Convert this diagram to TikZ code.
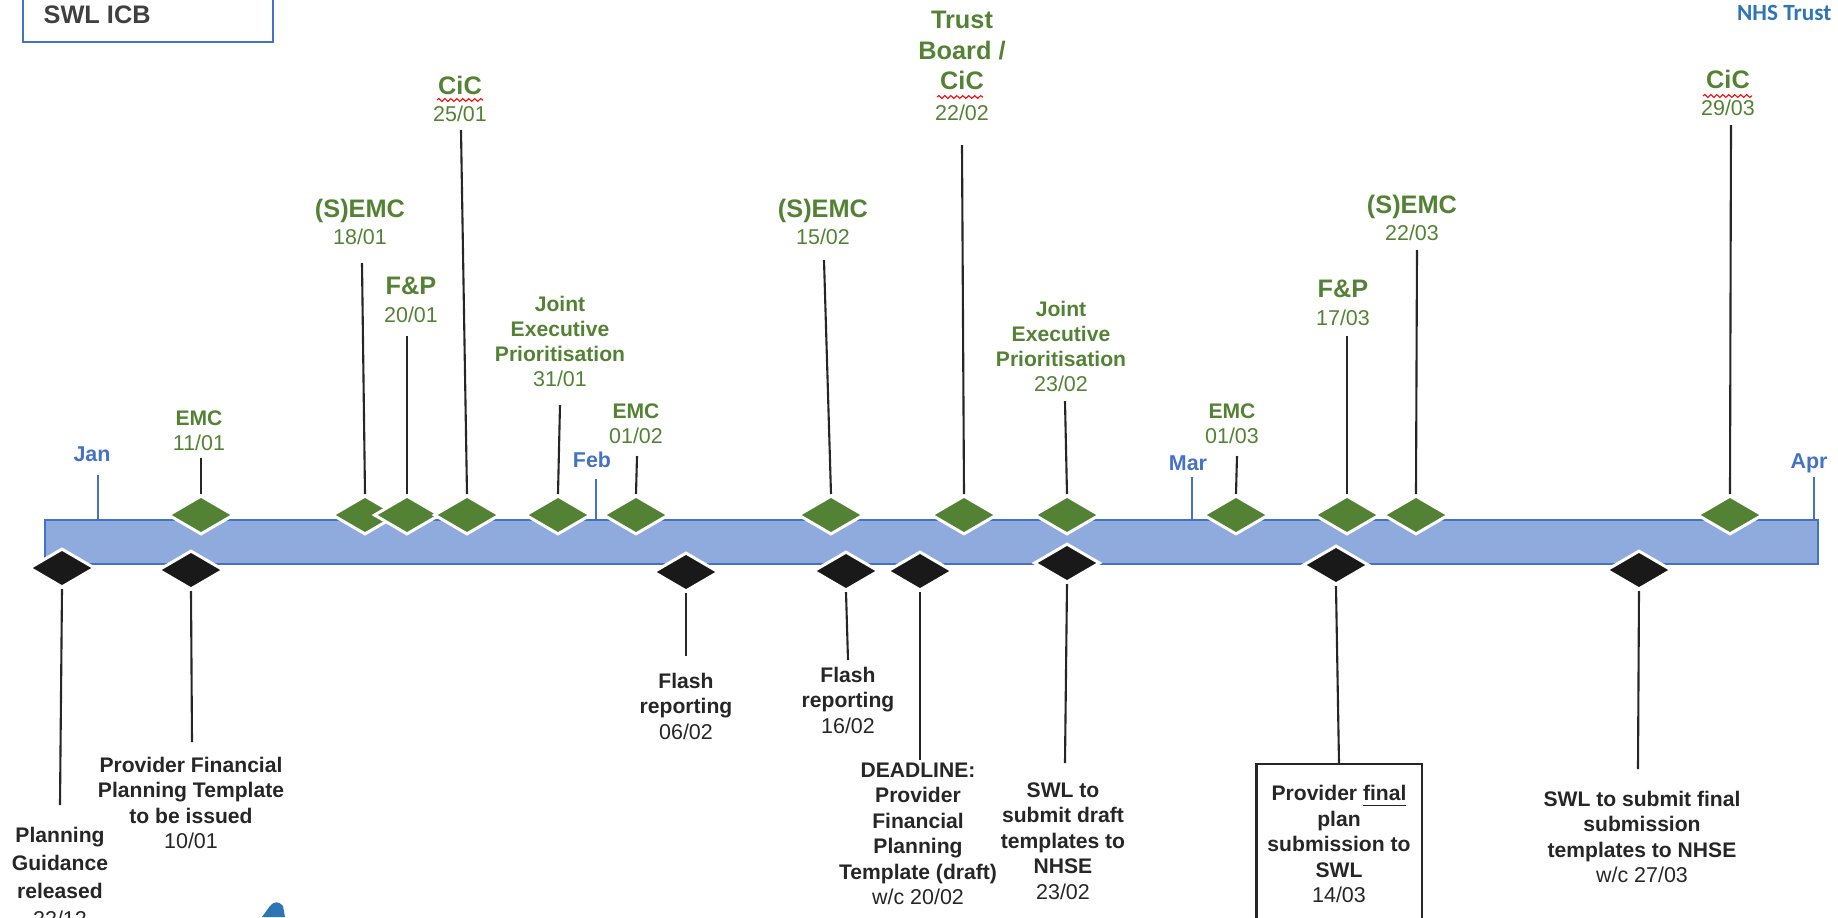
\documentclass[tikz,border=0pt]{standalone}
\usepackage{fontspec}
\setmainfont{Liberation Sans}
\newfontfamily\calibrifont{Carlito}
\usepackage{tikz}
\usetikzlibrary{shapes.geometric}
\usetikzlibrary{decorations.pathmorphing}
\usepackage{xcolor}

\definecolor{meetgreen}{HTML}{548235}
\definecolor{barblue}{HTML}{8FAADC}
\definecolor{lineblue}{HTML}{4472C4}
\definecolor{trustblue}{HTML}{2E75B6}
\definecolor{inkgray}{HTML}{262626}

% dates under a heading, set lighter
\newcommand\dday[1]{{\mdseries\fontsize{6.1}{7}\selectfont #1}}

\begin{document}
\begin{tikzpicture}
	[x=0.01cm, y=-0.01cm,
	meet/.style = {
		diamond, fill=meetgreen, draw=white, line width=0.85pt,
		minimum width=0.66cm, minimum height=0.39cm, inner sep=0cm
	},
	mile/.style = {
		meet, fill=black!90
	},
	stem/.style = {
		draw=inkgray, line width=0.6pt
	},
	mtick/.style = {
		draw=lineblue, line width=0.6pt
	},
	month/.style = {
		text=lineblue, font=\bfseries\fontsize{6.1}{7}\selectfont, inner sep=0cm
	},
	gbig/.style = {
		text=meetgreen, font=\bfseries\fontsize{7.2}{7.8}\selectfont,
		align=center, inner sep=0cm
	},
	gsmall/.style = {
		text=meetgreen, font=\bfseries\fontsize{6}{7.1}\selectfont,
		align=center, inner sep=0cm
	},
	note/.style = {
		text=inkgray, font=\bfseries\fontsize{6}{7.25}\selectfont,
		align=center, inner sep=0cm
	},
	squiggle/.style = {
		draw=red, line width=0.3pt, decorate,
		decoration={snake, amplitude=0.4pt, segment length=1.7pt}
	}]

	\useasboundingbox (0,0) rectangle (1838,917);

	%Draw header
	\draw[lineblue, line width=0.8pt] (23,-10) rectangle (273,42);
	\node[anchor=west, text=black!75, font=\bfseries\fontsize{7.2}{8}\selectfont, inner sep=0cm]
		(icb) at (43,15) {SWL ICB};
	\node[anchor=east, text=trustblue, font=\calibrifont\bfseries\fontsize{6.6}{8}\selectfont, inner sep=0cm]
		(trust) at (1832,13) {NHS Trust};
	\fill[trustblue] (262,917) -- (270,906) .. controls (274,901) and (279,901) .. (283,906) -- (285,917) -- cycle;

	%Draw bar and months
	\draw[lineblue, line width=0.6pt, fill=barblue] (45,520) rectangle (1818,564);
	\node[month] (jan) at (92,454) {Jan};
	\node[month] (feb) at (592,460) {Feb};
	\node[month] (mar) at (1188,463) {Mar};
	\node[month] (apr) at (1809,463) {Apr};
	\draw[mtick] (98,475) -- (98,520);
	\draw[mtick] (596,479) -- (596,520);
	\draw[mtick] (1192,477) -- (1192,520);
	\draw[mtick] (1814,477) -- (1814,520);

	%Draw meeting labels
	\node[gsmall] (t1) at (199,431) {EMC\\\dday{11/01}};
	\node[gbig] (t2) at (360,222) {(S)EMC\\\dday{18/01}};
	\node[gbig] (t3) at (411,300) {F\&P\\\dday{20/01}};
	\node[gbig] (t4) at (460,99) {CiC\\\dday{25/01}};
	\node[gsmall] (t5) at (560,341) {Joint\\Executive\\Prioritisation\\\dday{31/01}};
	\node[gsmall] (t6) at (636,424) {EMC\\\dday{01/02}};
	\node[gbig] (t7) at (823,222) {(S)EMC\\\dday{15/02}};
	\node[gbig, font=\bfseries\fontsize{7.2}{8.7}\selectfont] (t8) at (962,66) {Trust\\Board /\\CiC\\\dday{22/02}};
	\node[gsmall] (t9) at (1061,346) {Joint\\Executive\\Prioritisation\\\dday{23/02}};
	\node[gsmall] (t10) at (1232,424) {EMC\\\dday{01/03}};
	\node[gbig] (t11) at (1343,303) {F\&P\\\dday{17/03}};
	\node[gbig] (t12) at (1412,218) {(S)EMC\\\dday{22/03}};
	\node[gbig] (t13) at (1728,93) {CiC\\\dday{29/03}};
	\draw[squiggle] (437,100) -- (483,100);
	\draw[squiggle] (937,97) -- (983,97);
	\draw[squiggle] (1703,96) -- (1752,96);

	%Draw meeting diamonds
	\node[meet] (m1) at (201,515) {};
	\node[meet] (m2) at (365,515) {};
	\node[meet] (m3) at (407,515) {};
	\node[meet] (m4) at (467,515) {};
	\node[meet] (m5) at (558,515) {};
	\node[meet] (m6) at (636,515) {};
	\node[meet] (m7) at (831,515) {};
	\node[meet] (m8) at (964,515) {};
	\node[meet] (m9) at (1067,515) {};
	\node[meet] (m10) at (1236,515) {};
	\node[meet] (m11) at (1347,515) {};
	\node[meet] (m12) at (1416,515) {};
	\node[meet] (m13) at (1730,515) {};
	\coordinate (s1) at (201,458);
	\coordinate (s2) at (362,263);
	\coordinate (s3) at (407,336);
	\coordinate (s4) at (461,130);
	\coordinate (s5) at (560,405);
	\coordinate (s6) at (637,456);
	\coordinate (s7) at (824,260);
	\coordinate (s8) at (962,145);
	\coordinate (s9) at (1065,401);
	\coordinate (s10) at (1237,456);
	\coordinate (s11) at (1347,336);
	\coordinate (s12) at (1417,250);
	\coordinate (s13) at (1731,125);

	%Draw milestone diamonds and notes
	\node[mile] (k1) at (62,568) {};
	\node[mile] (k2) at (191,570) {};
	\node[mile] (k3) at (686,572) {};
	\node[mile] (k4) at (846,571) {};
	\node[mile] (k5) at (920,571) {};
	\node[mile] (k6) at (1067,563) {};
	\node[mile] (k7) at (1336,565) {};
	\node[mile] (k8) at (1639,570) {};
	\node[note, font=\bfseries\fontsize{6}{8}\selectfont] (n1) at (60,877) {Planning\\Guidance\\released\\\dday{22/12}};
	\node[note] (n2) at (191,803) {Provider Financial\\Planning Template\\to be issued\\\dday{10/01}};
	\node[note] (n3) at (686,706) {Flash\\reporting\\\dday{06/02}};
	\node[note] (n4) at (848,700) {Flash\\reporting\\\dday{16/02}};
	\node[note] (n5) at (918,834) {DEADLINE:\\Provider\\Financial\\Planning\\Template (draft)\\\dday{w/c 20/02}};
	\node[note] (n6) at (1063,841) {SWL to\\submit draft\\templates to\\NHSE\\\dday{23/02}};
	\node[note, draw=inkgray, line width=0.6pt, minimum width=1.65cm, minimum height=1.6cm]
		(n7) at (1339,844) {Provider \underline{final}\\plan\\submission to\\SWL\\\dday{14/03}};
	\node[note] (n8) at (1642,837) {SWL to submit final\\submission\\templates to NHSE\\\dday{w/c 27/03}};
	\coordinate (e1) at (60,805);
	\coordinate (e2) at (192,742);
	\coordinate (e3) at (686,656);
	\coordinate (e4) at (848,660);
	\coordinate (e5) at (920,760);
	\coordinate (e6) at (1065,763);
	\coordinate (e8) at (1638,769);

	%Draw stems
	\draw[stem] (s1) -- (m1.north);
	\draw[stem] (s2) -- (m2.north);
	\draw[stem] (s3) -- (m3.north);
	\draw[stem] (s4) -- (m4.north);
	\draw[stem] (s5) -- (m5.north);
	\draw[stem] (s6) -- (m6.north);
	\draw[stem] (s7) -- (m7.north);
	\draw[stem] (s8) -- (m8.north);
	\draw[stem] (s9) -- (m9.north);
	\draw[stem] (s10) -- (m10.north);
	\draw[stem] (s11) -- (m11.north);
	\draw[stem] (s12) -- (m12.north);
	\draw[stem] (s13) -- (m13.north);
	\draw[stem] (k1.south) -- (e1);
	\draw[stem] (k2.south) -- (e2);
	\draw[stem] (k3.south) -- (e3);
	\draw[stem] (k4.south) -- (e4);
	\draw[stem] (k5.south) -- (e5);
	\draw[stem] (k6.south) -- (e6);
	\draw[stem] (k7.south) -- (n7.north);
	\draw[stem] (k8.south) -- (e8);
\end{tikzpicture}
\end{document}
